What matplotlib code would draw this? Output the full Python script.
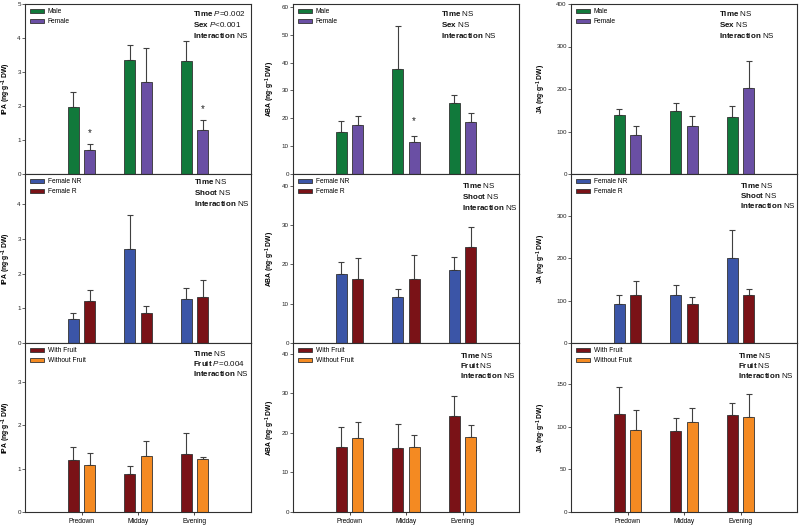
import matplotlib
matplotlib.use("Agg")
import matplotlib.pyplot as plt
import numpy as np

plt.rcParams['font.family'] = ['Liberation Sans', 'DejaVu Sans']
plt.rcParams['mathtext.fontset'] = 'custom'
plt.rcParams['mathtext.rm'] = 'Liberation Sans'
plt.rcParams['mathtext.it'] = 'Liberation Sans:italic'
plt.rcParams['mathtext.bf'] = 'Liberation Sans:bold'

times = ['Predown', 'Midday', 'Evening']

# IPA
ipa_male = [1.96, 3.36, 3.33]
ipa_male_err = [0.45, 0.44, 0.57]
ipa_female = [0.70, 2.72, 1.28]
ipa_female_err = [0.18, 0.99, 0.31]
ipa_nr = [0.69, 2.70, 1.27]
ipa_nr_err = [0.19, 1.00, 0.31]
ipa_r = [1.20, 0.87, 1.33]
ipa_r_err = [0.33, 0.19, 0.48]
ipa_with = [1.20, 0.88, 1.35]
ipa_with_err = [0.31, 0.19, 0.47]
ipa_without = [1.09, 1.29, 1.22]
ipa_without_err = [0.27, 0.35, 0.06]

# ABA
aba_male = [14.9, 37.8, 25.3]
aba_male_err = [4.1, 15.3, 3.2]
aba_female = [17.7, 11.6, 18.6]
aba_female_err = [3.0, 2.1, 3.4]
aba_nr = [17.5, 11.8, 18.5]
aba_nr_err = [3.1, 1.9, 3.4]
aba_r = [16.2, 16.2, 24.4]
aba_r_err = [5.4, 6.2, 5.1]
aba_with = [16.3, 16.2, 24.3]
aba_with_err = [5.2, 6.1, 5.0]
aba_without = [18.8, 16.3, 18.9]
aba_without_err = [3.9, 3.1, 3.1]

# JA
ja_male = [139, 148, 134]
ja_male_err = [13, 20, 26]
ja_female = [92, 112, 202]
ja_female_err = [21, 25, 65]
ja_nr = [91, 112, 201]
ja_nr_err = [22, 24, 66]
ja_r = [113, 93, 113]
ja_r_err = [32, 15, 14]
ja_with = [115, 95, 114]
ja_with_err = [32, 15, 14]
ja_without = [96, 106, 111]
ja_without_err = [23, 16, 27]

# significance stars: (panel, series index, time index, y)
stars = [((0, 0), 1, 0, 1.2), ((0, 0), 1, 2, 1.92), ((0, 1), 1, 1, 19.0)]

GREEN, PURPLE = '#11793b', '#6a4fa4'
BLUE, RED, ORANGE = '#3b55a7', '#7a1217', '#f48a22'

rows = [
    (('Male', 'Female'), (GREEN, PURPLE), 'Sex',
     [(ipa_male, ipa_male_err, ipa_female, ipa_female_err),
      (aba_male, aba_male_err, aba_female, aba_female_err),
      (ja_male, ja_male_err, ja_female, ja_female_err)]),
    (('Female NR', 'Female R'), (BLUE, RED), 'Shoot',
     [(ipa_nr, ipa_nr_err, ipa_r, ipa_r_err),
      (aba_nr, aba_nr_err, aba_r, aba_r_err),
      (ja_nr, ja_nr_err, ja_r, ja_r_err)]),
    (('With Fruit', 'Without Fruit'), (RED, ORANGE), 'Fruit',
     [(ipa_with, ipa_with_err, ipa_without, ipa_without_err),
      (aba_with, aba_with_err, aba_without, aba_without_err),
      (ja_with, ja_with_err, ja_without, ja_without_err)]),
]

# Time / factor / interaction results per panel
stats = [
    [[r'$P$=0.002', r'$P$<0.001', 'NS'], ['NS', 'NS', 'NS'], ['NS', 'NS', 'NS']],
    [['NS', 'NS', 'NS'], ['NS', 'NS', 'NS'], ['NS', 'NS', 'NS']],
    [['NS', r'$P$=0.004', 'NS'], ['NS', 'NS', 'NS'], ['NS', 'NS', 'NS']],
]

ylabels = ['IPA', 'ABA', 'JA']
ylims = [[5, 61, 400], [4.88, 43, 398], [3.9, 42.7, 198]]
yticks = [
    [np.arange(0, 6, 1), np.arange(0, 70, 10), np.arange(0, 500, 100)],
    [np.arange(0, 5, 1), np.arange(0, 50, 10), np.arange(0, 400, 100)],
    [np.arange(0, 4, 1), np.arange(0, 50, 10), np.arange(0, 200, 50)],
]
# stats text x position (axes fraction) per panel
stat_x = [[0.743, 0.655, 0.655], [0.748, 0.748, 0.748], [0.743, 0.739, 0.739]]
stat_top = [[10, 10, 10], [8, 12, 11], [10, 12, 12]]

W, H = 800, 527
col_x = [(25, 251), (293, 519), (571, 797)]
row_y = [(4, 174), (174, 343), (343, 512)]
label_x = [-12, -16, -23]

fig = plt.figure(figsize=(8, 5.27), dpi=100)
x = np.arange(1, 4)
off, bw = 0.145, 0.19
edge = '#333333'

for r, (names, colors, factor, data) in enumerate(rows):
    for c in range(3):
        x0, x1 = col_x[c]
        y0, y1 = row_y[r]
        ax = fig.add_axes([x0 / W, 1 - y1 / H, (x1 - x0) / W, (y1 - y0) / H])
        v1, e1, v2, e2 = data[c]
        for k, (v, e, col, name) in enumerate([(v1, e1, colors[0], names[0]),
                                               (v2, e2, colors[1], names[1])]):
            pos = x + (k * 2 - 1) * off
            ax.bar(pos, v, bw, color=col, edgecolor=edge, linewidth=0.6,
                   label=name, zorder=2)
            ax.errorbar(pos, v, yerr=[np.zeros(3), e], fmt='none', ecolor='#404040',
                        elinewidth=0.8, capsize=2.4, capthick=0.8, zorder=1)
        for (pr, pc), k, t, ys in stars:
            if (pr, pc) == (r, c):
                ax.text(x[t] + (k * 2 - 1) * off, ys, '*', ha='center', va='center',
                        fontsize=7, color='#222222')
        ax.set_xlim(0, 4)
        ax.set_ylim(0, ylims[r][c])
        ax.set_yticks(yticks[r][c])
        ax.tick_params(axis='y', labelsize=4.5, length=2, width=0.5, pad=1,
                       colors='#222222')
        if r == 2:
            ax.set_xticks(x)
            ax.set_xticklabels(times)
            ax.tick_params(axis='x', labelsize=4.8, length=2, width=0.5, pad=2)
        else:
            ax.set_xticks([])
        for s in ax.spines.values():
            s.set_linewidth(0.8)
            s.set_color('#303030')
        ax.set_ylabel(ylabels[c] + r' (ng·g$^{\mathbf{-1}}$ DW)', fontsize=4.9,
                      fontweight='bold')
        ax.yaxis.set_label_coords(label_x[c] / (x1 - x0), 0.5)
        ax.legend(loc='upper left', bbox_to_anchor=(0.022, 0.975), frameon=False,
                  fontsize=4.8, handlelength=2.1, handleheight=0.6,
                  handletextpad=0.6, labelspacing=0.45, borderpad=0,
                  borderaxespad=0)
        h = y1 - y0
        st = stats[r][c]
        lines = [(r'$\mathbf{Time}$ ' + st[0]),
                 (r'$\mathbf{' + factor + '}$ ' + st[1]),
                 (r'$\mathbf{Interaction}$ ' + st[2])]
        for i, line in enumerate(lines):
            ax.text(stat_x[r][c], 1 - (stat_top[r][c] + i * 10.5) / h, line,
                    transform=ax.transAxes, fontsize=5.8, ha='left', va='center',
                    color='#111111')

fig.savefig('out.png', dpi=100)
